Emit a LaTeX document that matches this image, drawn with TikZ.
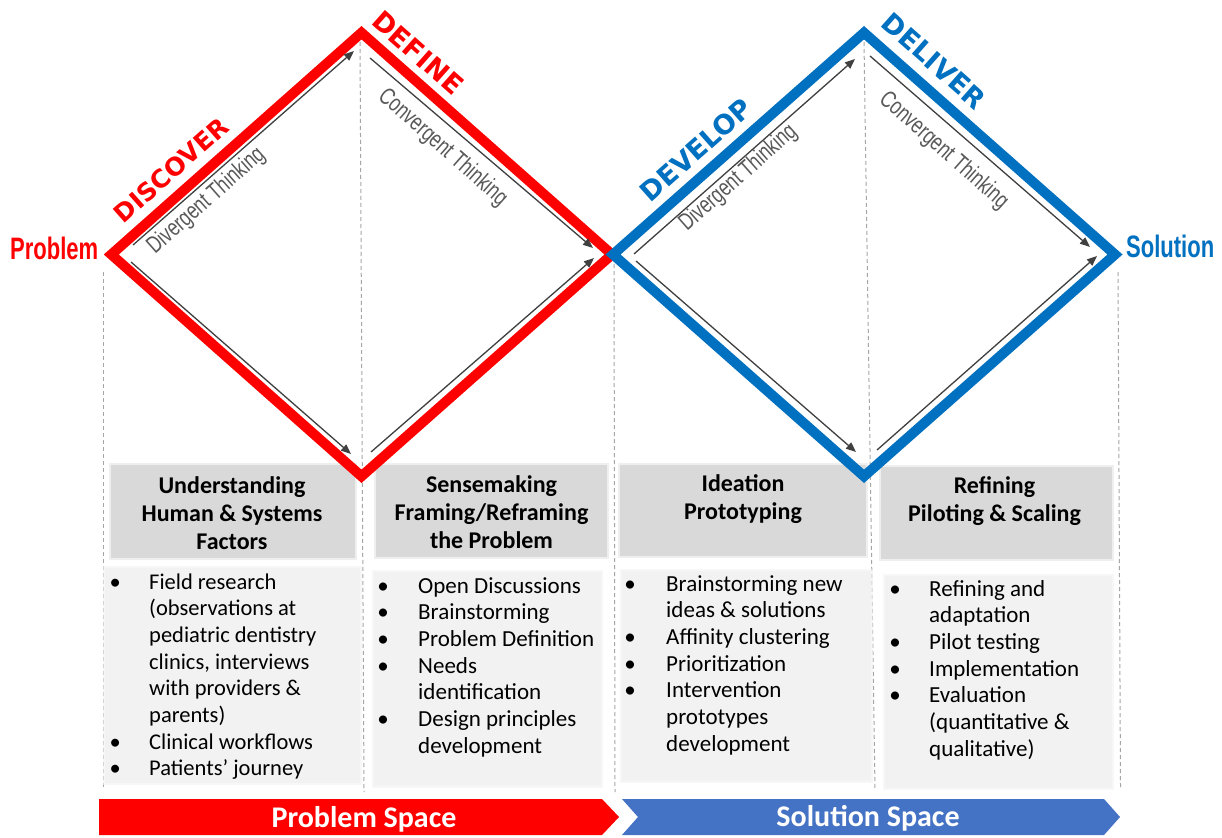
\documentclass[tikz,border=0pt]{standalone}
\usepackage{fontspec}
\setmainfont{Carlito}
\newfontfamily\thinkfont[FakeStretch=0.74]{Liberation Sans}
\newfontfamily\endfont[FakeStretch=0.71]{Liberation Sans}
\newfontfamily\phasefont{DejaVu Sans}
\usetikzlibrary{arrows.meta}

\definecolor{ddred}{HTML}{FF0000}
\definecolor{ddblue}{HTML}{0070C0}
\definecolor{spaceblue}{HTML}{4472C4}
\definecolor{arrowgray}{HTML}{404040}
\definecolor{labelgray}{HTML}{595959}
\definecolor{headgray}{HTML}{D9D9D9}
\definecolor{bodygray}{HTML}{F2F2F2}
\definecolor{dashgray}{HTML}{A6A6A6}

% bullet hung to the left of the text start
\newcommand\bul[1]{\llap{\makebox[0pt][c]{\textbullet}\hspace{#1}}}

\tikzset{
  diamondline/.style={line width=10pt, line join=miter},
  thinkarrow/.style={draw=arrowgray, line width=1.3pt, -{Triangle[length=10pt,width=8pt]}},
  thinklabel/.style={font=\thinkfont\fontsize{24}{26}\selectfont, text=labelgray, inner sep=0pt, anchor=base west},
  phaselabel/.style={font=\phasefont\bfseries\fontsize{25}{28}\selectfont, inner sep=0pt},
  bigphase/.style={phaselabel, font=\phasefont\bfseries\fontsize{27}{30}\selectfont},
  endlabel/.style={font=\endfont\bfseries\fontsize{31}{34}\selectfont, inner sep=0pt, anchor=base west},
  headbox/.style={fill=headgray, preaction={draw=headgray, line width=4pt, opacity=0.4}, inner sep=0pt, outer sep=0pt},
  bodybox/.style={fill=bodygray, preaction={draw=bodygray, line width=4pt, opacity=0.6}, inner sep=0pt, outer sep=0pt},
  headtext/.style={font=\bfseries\fontsize{24}{28}\selectfont, inner sep=0pt, anchor=base},
  bodytext/.style={font=\fontsize{23}{26.7}\selectfont, inner sep=0pt, anchor=base west},
  guide/.style={draw=dashgray, line width=1pt, dash pattern=on 4pt off 3pt},
  spacetext/.style={font=\bfseries\fontsize{30}{32}\selectfont, text=white, inner sep=0pt, anchor=base},
}

\begin{document}
\begin{tikzpicture}[x=1pt,y=-1pt]
\useasboundingbox (0,0) rectangle (1222,837);
\fill[white] (0,0) rectangle (1222,837);

% dashed column guides
\draw[guide] (103.5,272) -- (103.5,788);
\draw[guide] (360,42) -- (364,792);
\draw[guide] (614,264) -- (615,792);
\draw[guide] (864,42) -- (875,790);
\draw[guide] (1118,272) -- (1120.5,788);

% column headers
\node[headbox, minimum width=244pt, minimum height=93pt] (h1) at (233,511.5) {};
\node[headbox, minimum width=231pt, minimum height=92pt] (h2) at (491.5,511) {};
\node[headbox, minimum width=246pt, minimum height=91pt] (h3) at (743,510.5) {};
\node[headbox, minimum width=231pt, minimum height=92pt] (h4) at (996.5,513) {};

% column bodies
\node[bodybox, minimum width=255pt, minimum height=215pt] (b1) at (232.5,675.5) {};
\node[bodybox, minimum width=227pt, minimum height=214pt] (b2) at (487.5,679) {};
\node[bodybox, minimum width=249pt, minimum height=210pt] (b3) at (746.5,676) {};
\node[bodybox, minimum width=227pt, minimum height=212pt] (b4) at (998.5,682) {};

% header texts
\node[headtext] (h1t) at (232,493) {\begin{tabular}[t]{@{}c@{}}Understanding\\Human \& Systems\\Factors\end{tabular}};
\node[headtext] (h2t) at (491.5,492) {\begin{tabular}[t]{@{}c@{}}Sensemaking\\Framing/Reframing\\the Problem\end{tabular}};
\node[headtext] (h3t) at (743,491) {\begin{tabular}[t]{@{}c@{}}Ideation\\Prototyping\end{tabular}};
\node[headtext] (h4t) at (994.5,493) {\begin{tabular}[t]{@{}c@{}}Refining\\Piloting \& Scaling\end{tabular}};

% bullet lists
\node[bodytext, font=\fontsize{22.5}{26.7}\selectfont] (l1) at (149,589) {\begin{tabular}[t]{@{}l@{}}
\bul{34pt}Field research\\(observations at\\pediatric dentistry\\clinics, interviews\\with providers \&\\parents)\\
\bul{34pt}Clinical workflows\\\bul{34pt}Patients’ journey\end{tabular}};
\node[bodytext] (l2) at (418,593) {\begin{tabular}[t]{@{}l@{}}
\bul{35pt}Open Discussions\\\bul{35pt}Brainstorming\\\bul{35pt}Problem Definition\\
\bul{35pt}Needs\\identification\\\bul{35pt}Design principles\\development\end{tabular}};
\node[bodytext] (l3) at (666,591) {\begin{tabular}[t]{@{}l@{}}
\bul{36pt}Brainstorming new\\ideas \& solutions\\\bul{36pt}Affinity clustering\\
\bul{36pt}Prioritization\\\bul{36pt}Intervention\\prototypes\\development\end{tabular}};
\node[bodytext] (l4) at (929,596) {\begin{tabular}[t]{@{}l@{}}
\bul{34pt}Refining and\\adaptation\\\bul{34pt}Pilot testing\\\bul{34pt}Implementation\\
\bul{34pt}Evaluation\\(quantitative \&\\qualitative)\end{tabular}};

% double diamond corners
\coordinate (rL) at (111.3,254.5);
\coordinate (rT) at (361.5,32.7);
\coordinate (rR) at (612,254.5);
\coordinate (rB) at (361.5,476.3);
\coordinate (bL) at (613,254.5);
\coordinate (bT) at (864,32.7);
\coordinate (bR) at (1115,254.5);
\coordinate (bB) at (864,476.3);

\draw[diamondline, ddred] (rL) -- (rT) -- (rR) -- (rB) -- cycle;
\draw[diamondline, ddblue] (bL) -- (bT) -- (bR) -- (bB) -- cycle;

% thinking arrows
\coordinate (a1s) at (133,245);  \coordinate (a1e) at (354,51);
\coordinate (a2s) at (131,262);  \coordinate (a2e) at (351,454);
\coordinate (a3s) at (370,58);   \coordinate (a3e) at (593,248);
\coordinate (a4s) at (371,452);  \coordinate (a4e) at (594,258);
\coordinate (b1s) at (634,254);  \coordinate (b1e) at (855,59);
\coordinate (b2s) at (636,261);  \coordinate (b2e) at (856,452);
\coordinate (b3s) at (870,56);   \coordinate (b3e) at (1090,247);
\coordinate (b4s) at (877,450);  \coordinate (b4e) at (1097,256);
\foreach \a in {a1,a2,a3,a4,b1,b2,b3,b4}
  \draw[thinkarrow] (\a s) -- (\a e);

\node[thinklabel, rotate=41.5] (div1) at (155,255) {Divergent Thinking};
\node[thinklabel, rotate=41.5] (div2) at (687,232) {Divergent Thinking};
\node[thinklabel, rotate=-41.5] (conv1) at (377,98) {Convergent Thinking};
\node[thinklabel, rotate=-41.5] (conv2) at (878,101) {Convergent Thinking};

% phase names
\node[phaselabel, text=ddred, rotate=41.5] (discover) at (171,170) {DISCOVER};
\node[bigphase, text=ddred, rotate=-41.5] (define) at (418,53) {DEFINE};
\node[bigphase, text=ddblue, rotate=41.5] (develop) at (696,150) {DEVELOP};
\node[bigphase, text=ddblue, rotate=-41.5] (deliver) at (934,61) {DELIVER};

% start and end points
\node[endlabel, text=ddred] (problem) at (10,259) {Problem};
\node[endlabel, text=ddblue] (solution) at (1126,257) {Solution};

% space banners
\fill[ddred] (99,799) -- (602,799) -- (619,817) -- (602,835) -- (99,835) -- cycle;
\fill[spaceblue] (622,799) -- (1104,799) -- (1120,817) -- (1104,835) -- (622,835) -- (638,817) -- cycle;
\node[spacetext] (probspace) at (364,827) {Problem Space};
\node[spacetext] (solspace) at (868,826) {Solution Space};
\end{tikzpicture}
\end{document}
